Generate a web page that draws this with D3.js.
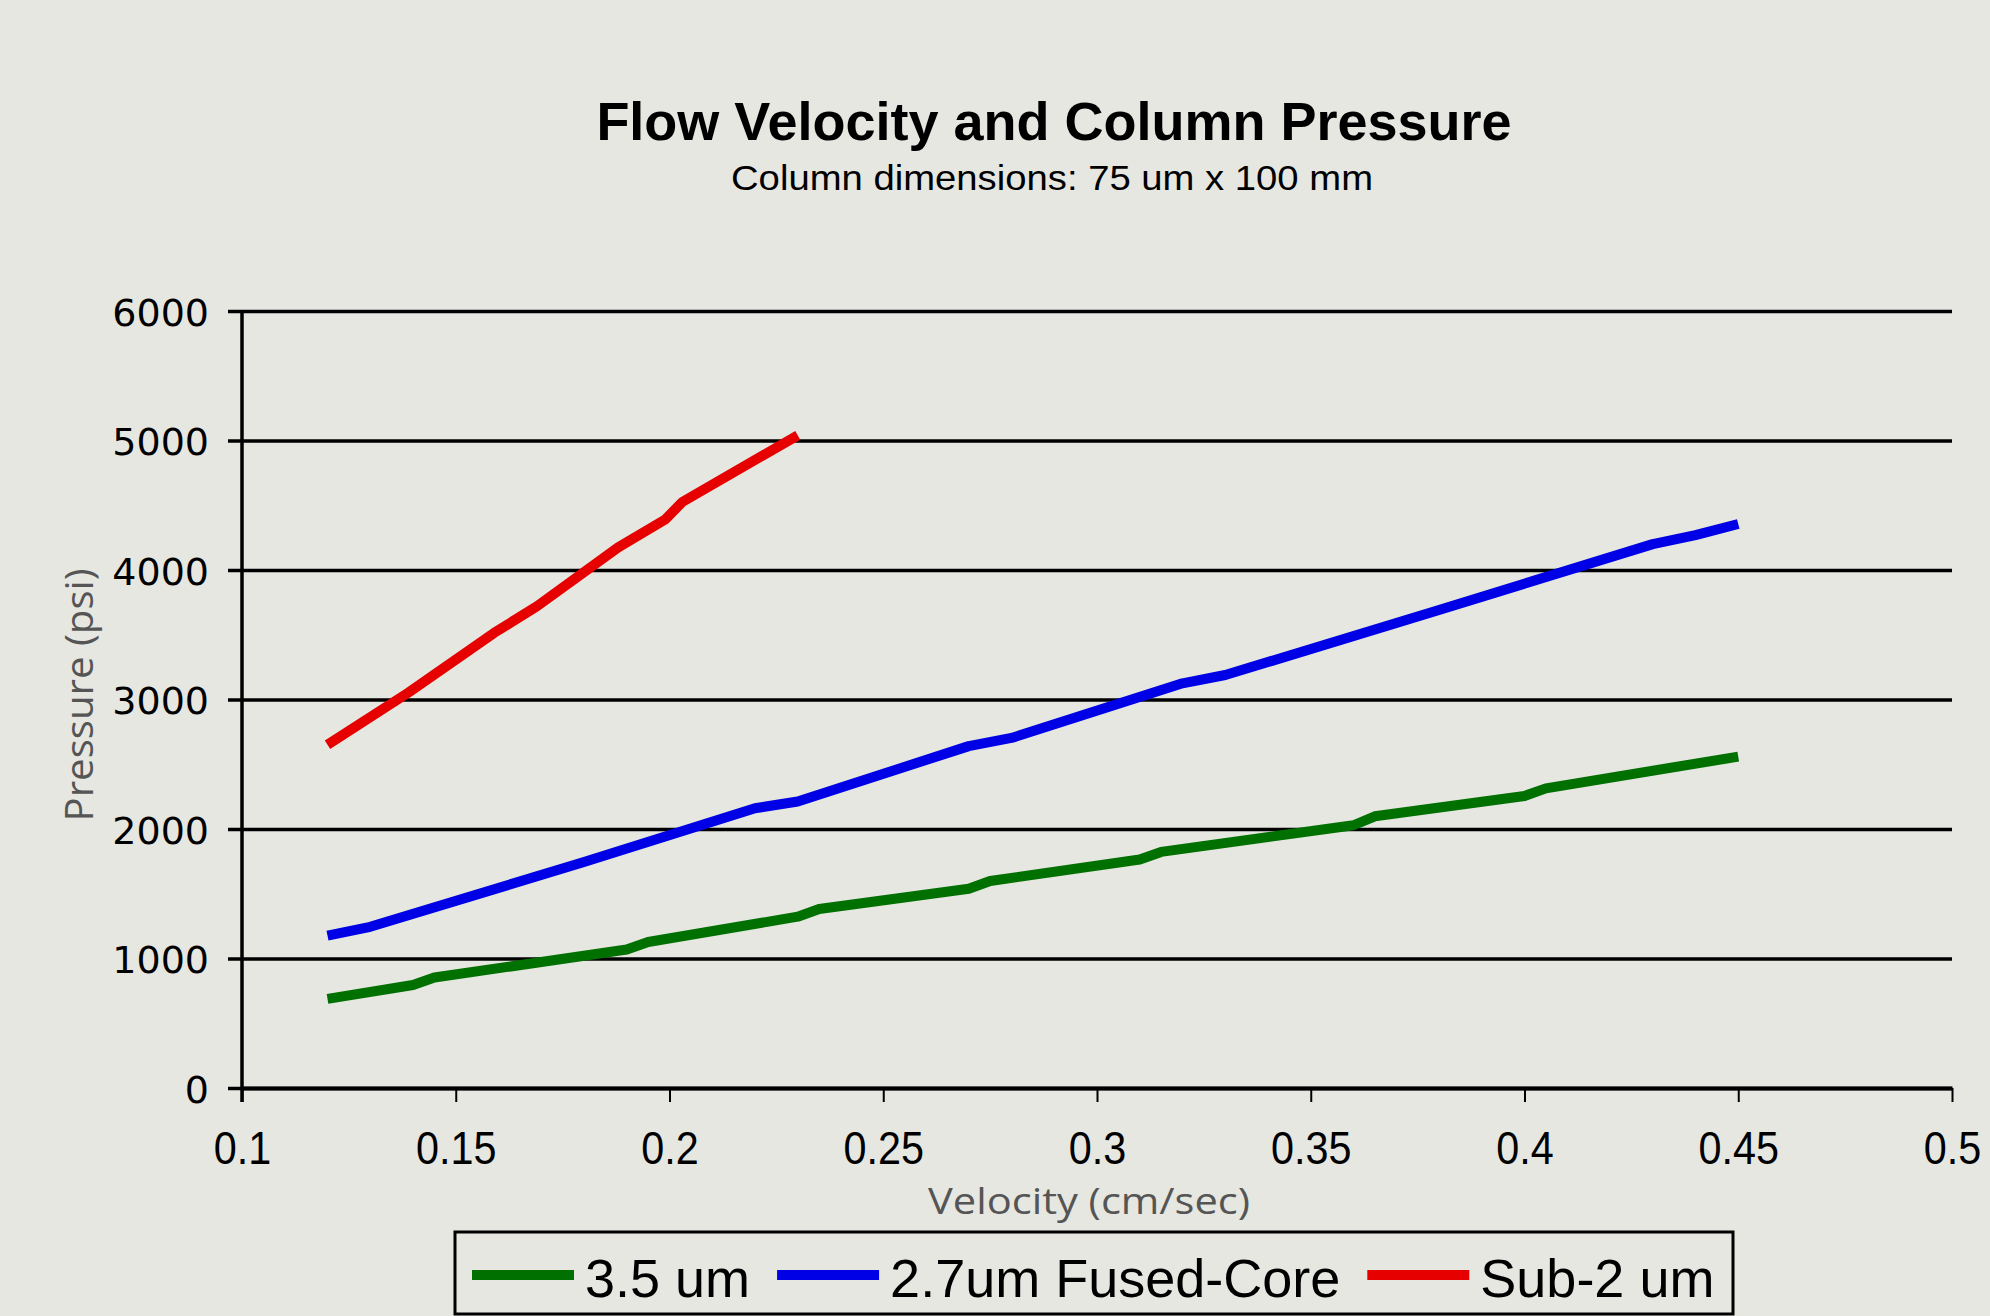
<!DOCTYPE html>
<html>
<head>
<meta charset="utf-8">
<script src="https://cdn.jsdelivr.net/npm/d3@7/dist/d3.min.js"></script>
<style>
  html, body { margin: 0; padding: 0; background: #e6e7e1; }
  svg { display: block; }
</style>
</head>
<body>
<div id="chart"></div>
<script>
// series (velocity cm/sec -> pressure psi)
var greenX = [0.12, 0.14, 0.145, 0.19, 0.195, 0.23, 0.235, 0.27, 0.275, 0.31, 0.315, 0.36, 0.365, 0.40, 0.405, 0.45];
var greenY = [688, 795, 853, 1069, 1127, 1323, 1382, 1539, 1598, 1765, 1823, 2029, 2098, 2255, 2314, 2559];

var blueX = [0.12, 0.13, 0.18, 0.22, 0.23, 0.27, 0.28, 0.32, 0.33, 0.38, 0.43, 0.44, 0.45];
var blueY = [1176, 1245, 1745, 2160, 2212, 2640, 2703, 3125, 3189, 3691, 4200, 4270, 4355];

var redX = [0.12, 0.139, 0.159, 0.169, 0.188, 0.199, 0.203, 0.23];
var redY = [2650, 3055, 3515, 3720, 4175, 4390, 4525, 5040];

var seriesNames = ["3.5 um", "2.7um Fused-Core", "Sub-2 um"];
var seriesColors = ["#007000", "#0000e6", "#e60000"];

var xTicks = [0.1, 0.15, 0.2, 0.25, 0.3, 0.35, 0.4, 0.45, 0.5];
var yTicks = [0, 1000, 2000, 3000, 4000, 5000, 6000];

var width = 1990,
  height = 1316;

// plot box
var pLeft = 242, pRight = 1952, pTop = 311, pBottom = 1088;

var x = d3.scaleLinear().domain([0.1, 0.5]).range([pLeft, pRight]);
var y = d3.scaleLinear().domain([0, 6000]).range([pBottom, pTop]);

var svg = d3
  .select("#chart")
  .append("svg")
  .attr("width", width)
  .attr("height", height);

svg.append("rect")
  .attr("width", width)
  .attr("height", height)
  .attr("fill", "#e6e7e1");

// titles
svg.append("text")
  .attr("x", 1054)
  .attr("y", 140)
  .attr("text-anchor", "middle")
  .style("font-family", "'Liberation Sans', Arial, sans-serif")
  .style("font-weight", "bold")
  .style("font-size", "54px")
  .text("Flow Velocity and Column Pressure");

svg.append("text")
  .attr("x", 1052)
  .attr("y", 190)
  .attr("text-anchor", "middle")
  .attr("textLength", 642)
  .attr("lengthAdjust", "spacingAndGlyphs")
  .style("font-family", "'Liberation Sans', Arial, sans-serif")
  .style("font-size", "35px")
  .text("Column dimensions: 75 um x 100 mm");

// y axis with gridlines
var yAxis = d3.axisLeft(y)
  .tickValues(yTicks)
  .tickSize(-(pRight - 228))
  .tickPadding(19)
  .tickFormat(d3.format("d"));

var gy = svg.append("g")
  .attr("transform", "translate(228,0)")
  .call(yAxis);
gy.select(".domain").remove();
gy.selectAll(".tick line")
  .attr("stroke", "#000")
  .attr("stroke-width", 3.5);
gy.selectAll(".tick text")
  .attr("dy", null)
  .attr("y", 14)
  .style("font-family", "'DejaVu Sans', sans-serif")
  .style("font-size", "38px")
  .attr("fill", "#000");

// x axis
var xAxis = d3.axisBottom(x)
  .tickValues(xTicks)
  .tickSize(14)
  .tickSizeOuter(0)
  .tickPadding(0)
  .tickFormat(function(d) { return String(+d.toFixed(2)); });

var gx = svg.append("g")
  .attr("transform", "translate(0," + pBottom + ")")
  .call(xAxis);
gx.select(".domain")
  .attr("stroke", "#000")
  .attr("stroke-width", 4);
gx.selectAll(".tick line")
  .attr("stroke", "#000")
  .attr("stroke-width", 2);
gx.selectAll(".tick text")
  .attr("dy", null)
  .attr("y", 0)
  .attr("transform", "translate(0,76) scale(0.88,1)")
  .style("font-family", "'Liberation Sans', Arial, sans-serif")
  .style("font-size", "47px")
  .attr("fill", "#000");

// y axis line
svg.append("line")
  .attr("x1", pLeft).attr("x2", pLeft)
  .attr("y1", y(6000)).attr("y2", pBottom + 14)
  .attr("stroke", "#000")
  .attr("stroke-width", 3.5);

// axis titles
svg.append("text")
  .attr("x", 1089)
  .attr("y", 1214)
  .attr("text-anchor", "middle")
  .attr("textLength", 322)
  .attr("lengthAdjust", "spacingAndGlyphs")
  .style("font-family", "'Open Sans', sans-serif")
  .style("font-size", "37px")
  .attr("fill", "#555")
  .text("Velocity (cm/sec)");

svg.append("text")
  .attr("transform", "translate(93,695) rotate(-90)")
  .attr("text-anchor", "middle")
  .attr("textLength", 253)
  .attr("lengthAdjust", "spacingAndGlyphs")
  .style("font-family", "'Open Sans', sans-serif")
  .style("font-size", "38px")
  .attr("fill", "#555")
  .text("Pressure (psi)");

// lines
var series = [
  { xs: greenX, ys: greenY },
  { xs: blueX, ys: blueY },
  { xs: redX, ys: redY }
];

var line = d3.line()
  .x(function(d) { return x(d[0]); })
  .y(function(d) { return y(d[1]); });

series.forEach(function(s, i) {
  var pts = s.xs.map(function(v, j) { return [v, s.ys[j]]; });
  svg.append("path")
    .datum(pts)
    .attr("d", line)
    .attr("fill", "none")
    .attr("stroke", seriesColors[i])
    .attr("stroke-width", 10)
    .attr("stroke-linejoin", "round")
    .attr("stroke-linecap", "butt");
});

// legend
var legend = svg.append("g");
legend.append("rect")
  .attr("x", 455)
  .attr("y", 1232)
  .attr("width", 1278)
  .attr("height", 82)
  .attr("fill", "none")
  .attr("stroke", "#000")
  .attr("stroke-width", 3);

var lx = 472;
seriesNames.forEach(function(name, i) {
  legend.append("line")
    .attr("x1", lx).attr("x2", lx + 102)
    .attr("y1", 1275).attr("y2", 1275)
    .attr("stroke", seriesColors[i])
    .attr("stroke-width", 10);
  var t = legend.append("text")
    .attr("x", lx + 113)
    .attr("y", 1297)
    .style("font-family", "'Liberation Sans', Arial, sans-serif")
    .style("font-size", "54px")
    .text(name);
  lx = lx + 113 + t.node().getComputedTextLength() + 27;
});
</script>
</body>
</html>
